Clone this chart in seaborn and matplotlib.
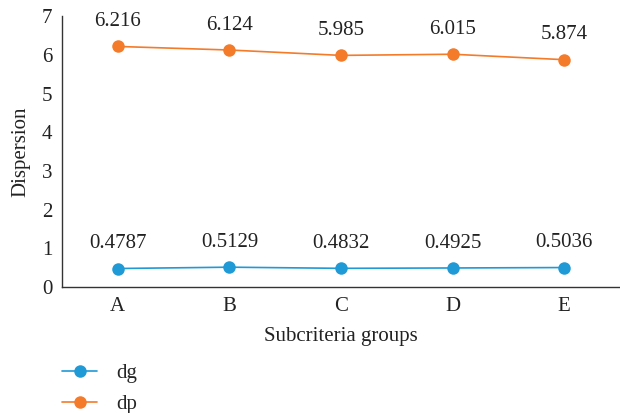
import pandas as pd
import matplotlib
matplotlib.use("Agg")
import matplotlib.pyplot as plt
import seaborn as sns

groups = ["A", "B", "C", "D", "E"]
dg = [0.4787, 0.5129, 0.4832, 0.4925, 0.5036]
dp = [6.216, 6.124, 5.985, 6.015, 5.874]
dg_labels = ["0.4787", "0.5129", "0.4832", "0.4925", "0.5036"]
dp_labels = ["6.216", "6.124", "5.985", "6.015", "5.874"]

sns.set_style("white")
plt.rcParams['font.family'] = ['Liberation Serif', 'DejaVu Serif']

df = pd.DataFrame({
    'group': groups * 2,
    'value': dg + dp,
    'series': ['dg'] * 5 + ['dp'] * 5,
})

fig = plt.figure(figsize=(6.2, 4.13), dpi=100)
ax = fig.add_axes([0.1, 0.305, 0.9, 0.656])
palette = {'dg': '#1f9ad6', 'dp': '#f47b2a'}
sns.lineplot(data=df, x='group', y='value', hue='series', palette=palette,
             marker='o', markersize=9, markeredgewidth=0, linewidth=1.2,
             ax=ax, legend=False)

# value labels above points
for vals, labs in [(dg, dg_labels), (dp, dp_labels)]:
    for i, (v, t) in enumerate(zip(vals, labs)):
        ax.annotate(t, (i, v), xytext=(0, 11), textcoords='offset points',
                    ha='center', va='bottom', fontsize=15, color='#222222')

ax.set_xlim(-0.5, 4.5)
ax.set_ylim(0, 7)
ax.set_yticks(range(8))
ax.tick_params(axis='both', length=0, labelsize=15, colors='#222222', pad=7)
ax.set_xlabel('Subcriteria groups', fontsize=15, color='#222222', labelpad=8)
ax.set_ylabel('Dispersion', fontsize=15, color='#222222', labelpad=8)
sns.despine(ax=ax)
for s in ['left', 'bottom']:
    ax.spines[s].set_color('#333333')
    ax.spines[s].set_linewidth(1.0)

handles = [plt.Line2D([], [], color=palette[k], marker='o', markersize=9,
                      markeredgewidth=0, linewidth=1.2) for k in ['dg', 'dp']]
fig.legend(handles, ['dg', 'dp'], loc='upper left', bbox_to_anchor=(0.1, 0.12),
           frameon=False, fontsize=15, handlelength=1.7, labelspacing=0.55,
           handletextpad=0.9, borderaxespad=0, borderpad=0)

fig.savefig('out.png', dpi=100)
